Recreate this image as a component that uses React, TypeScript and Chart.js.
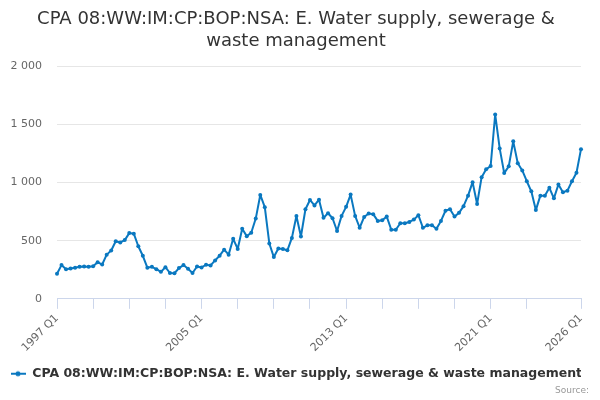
import { useEffect, useRef } from 'react';
import { Chart, registerables } from 'chart.js';

Chart.register(...registerables);

const titleLines = ['CPA 08:WW:IM:CP:BOP:NSA: E. Water supply, sewerage &', 'waste management'];
const seriesName = 'CPA 08:WW:IM:CP:BOP:NSA: E. Water supply, sewerage & waste management';
const sourceText = 'Source:';

// quarterly categories, 1997 Q1 .. 2026 Q1
const firstYear = 1997;
const quarterCount = 117;
const quarters: string[] = [];
for (let i = 0; i < quarterCount; i++) {
  quarters.push(`${firstYear + Math.floor(i / 4)} Q${(i % 4) + 1}`);
}

const labelledQuarters = ['1997 Q1', '2005 Q1', '2013 Q1', '2021 Q1', '2026 Q1'];
const tickQuarters = [
  '1997 Q1', '1999 Q1', '2001 Q1', '2003 Q1', '2005 Q1', '2007 Q1', '2009 Q1', '2011 Q1',
  '2013 Q1', '2015 Q1', '2017 Q1', '2019 Q1', '2021 Q1', '2023 Q1', '2026 Q1',
];

const waterSupply = [
  215, 290, 255, 260, 268, 275, 278, 275, 280, 315, 295, 380, 415, 495, 485, 505,
  565, 560, 452, 370, 268, 275, 255, 232, 272, 222, 220, 264, 290, 258, 222, 278,
  270, 293, 287, 330, 371, 423, 380, 516, 429, 603, 539, 568, 690, 893, 788, 476,
  359, 432, 428, 417, 524, 712, 536, 770, 850, 803, 852, 697, 736, 693, 583, 713,
  791, 896, 713, 611, 704, 733, 728, 670, 676, 707, 594, 594, 650, 650, 661, 681,
  719, 611, 632, 632, 603, 670, 757, 771, 707, 739, 797, 887, 1003, 815, 1046, 1113,
  1142, 1585, 1293, 1081, 1139, 1354, 1165, 1104, 1011, 924, 763, 887, 887, 954, 864, 983,
  916, 930, 1011, 1084, 1287,
];

const yTicks = [0, 500, 1000, 1500, 2000];

const lineColor = '#0a78c0';

function formatThousands(v: number) {
  if (v < 1000) return String(v);
  return `${Math.floor(v / 1000)} ${String(v % 1000).padStart(3, '0')}`;
}

function makeLegendSymbol() {
  const c = document.createElement('canvas');
  c.width = 16;
  c.height = 8;
  const g = c.getContext('2d');
  if (g) {
    g.strokeStyle = lineColor;
    g.lineWidth = 2;
    g.beginPath();
    g.moveTo(0, 4);
    g.lineTo(16, 4);
    g.stroke();
    g.fillStyle = lineColor;
    g.beginPath();
    g.arc(8, 4, 2.5, 0, Math.PI * 2);
    g.fill();
  }
  return c;
}

// credits text in the bottom right corner
const sourcePlugin = {
  id: 'sourceCredit',
  afterDraw(chart: any) {
    const { ctx, width, height } = chart;
    ctx.save();
    ctx.font = '9px "DejaVu Sans", sans-serif';
    ctx.fillStyle = '#999999';
    ctx.textAlign = 'right';
    ctx.textBaseline = 'middle';
    ctx.fillText(sourceText, width - 11, height - 9);
    ctx.restore();
  },
};

export default function App() {
  const canvasRef = useRef<HTMLCanvasElement>(null);

  useEffect(() => {
    if (!canvasRef.current) return;
    Chart.defaults.font.family = '"DejaVu Sans", sans-serif';
    const legendSymbol = makeLegendSymbol();

    const chart = new Chart(canvasRef.current, {
      type: 'line',
      data: {
        labels: quarters,
        datasets: [
          {
            label: seriesName,
            data: waterSupply,
            borderColor: lineColor,
            backgroundColor: lineColor,
            borderWidth: 2,
            borderJoinStyle: 'round',
            pointRadius: 2,
            pointHoverRadius: 3,
            pointBorderWidth: 0,
            pointStyle: 'circle',
            tension: 0,
          },
        ],
      },
      options: {
        responsive: true,
        maintainAspectRatio: false,
        animation: false,
        layout: { padding: { left: 11, right: 19, top: 0, bottom: 10 } },
        scales: {
          x: {
            offset: false,
            afterFit: (axis: any) => {
              axis.paddingLeft = 0;
              axis.paddingRight = 0;
            },
            border: { color: '#ccd6eb', width: 1 },
            grid: {
              drawOnChartArea: false,
              drawTicks: true,
              tickLength: 10,
              tickColor: (ctx: any) =>
                tickQuarters.includes(quarters[ctx.index]) ? '#ccd6eb' : 'rgba(0,0,0,0)',
            },
            ticks: {
              autoSkip: false,
              minRotation: 45,
              maxRotation: 45,
              padding: 3,
              color: '#666666',
              font: { size: 11 },
              callback: (_v: any, i: number) =>
                labelledQuarters.includes(quarters[i]) ? quarters[i] : '',
            },
          },
          y: {
            min: 0,
            max: 2000,
            afterBuildTicks: (axis: any) => {
              axis.ticks = yTicks.map((v) => ({ value: v }));
            },
            afterFit: (axis: any) => {
              axis.width = 46;
            },
            border: { display: false },
            grid: { color: '#e6e6e6', drawTicks: false, lineWidth: 1 },
            ticks: {
              padding: 15,
              color: '#666666',
              font: { size: 11 },
              callback: (v: any) => formatThousands(Number(v)),
            },
          },
        },
        plugins: {
          title: {
            display: true,
            text: titleLines,
            color: '#333333',
            font: { size: 18, weight: 'normal' },
            padding: { top: 9, bottom: 14 },
          },
          legend: {
            display: true,
            position: 'bottom',
            labels: {
              usePointStyle: true,
              pointStyle: legendSymbol as any,
              pointStyleWidth: 16,
              boxHeight: 8,
              color: '#333333',
              font: { size: 12.5, weight: 'bold' },
              padding: 10,
            },
          },
          tooltip: { enabled: false },
        },
      },
      plugins: [sourcePlugin],
    });

    return () => {
      chart.destroy();
    };
  }, []);

  return (
    <div style={{ position: 'fixed', left: 0, top: 0, width: 600, height: 400, background: '#fff' }}>
      <canvas ref={canvasRef} />
    </div>
  );
}
